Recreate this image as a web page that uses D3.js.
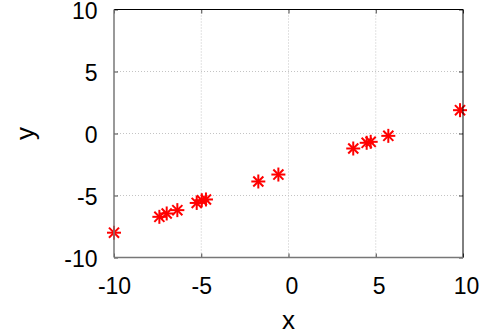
<!DOCTYPE html>
<html>
<head>
<meta charset="utf-8">
<script src="https://cdn.jsdelivr.net/npm/d3@7"></script>
<style>
  html, body { margin: 0; padding: 0; background: #fff; }
  svg { display: block; }
  text { font-family: "Liberation Sans", Arial, Helvetica, sans-serif; fill: #000; }
</style>
</head>
<body>
<svg id="chart" width="480" height="334"></svg>
<script>
const xValues = [-10.0, -7.40, -6.98, -6.37, -5.26, -4.97, -4.73, -1.73, -0.58, 3.71, 4.48, 4.71, 5.72, 9.83];
const yValues = [-8.00, -6.72, -6.45, -6.18, -5.60, -5.38, -5.32, -3.87, -3.31, -1.21, -0.75, -0.67, -0.19, 1.88];
const xTicks = [-10, -5, 0, 5, 10];
const yTicks = [-10, -5, 0, 5, 10];
const xLabel = "x";
const yLabel = "y";

(function () {
const svg = d3.select("#chart");
const pL = 114, pR = 463, pT = 9.5, pB = 257.5;

const x = d3.scaleLinear().domain([-10, 10]).range([pL, pR]);
const y = d3.scaleLinear().domain([-10, 10]).range([pB, pT]);

// grid
const grid = svg.append("g");
grid.selectAll("line.gx").data(xTicks.slice(1, -1)).join("line")
  .attr("x1", d => x(d)).attr("x2", d => x(d))
  .attr("y1", pT).attr("y2", pB)
  .attr("stroke", "#c4c4c4").attr("stroke-width", 1).attr("stroke-dasharray", "1,2");
grid.selectAll("line.gy").data(yTicks.slice(1, -1)).join("line")
  .attr("y1", d => y(d)).attr("y2", d => y(d))
  .attr("x1", pL).attr("x2", pR)
  .attr("stroke", "#c4c4c4").attr("stroke-width", 1).attr("stroke-dasharray", "1,2");

// markers (asterisks)
const r = 7;
const pts = svg.append("g").selectAll("g").data(xValues.map((v, i) => [v, yValues[i]])).join("g")
  .attr("transform", d => `translate(${x(d[0])},${y(d[1])})`);
const arms = [[0, -r, 0, r], [-r, 0, r, 0], [-r * 0.72, -r * 0.72, r * 0.72, r * 0.72], [-r * 0.72, r * 0.72, r * 0.72, -r * 0.72]];
arms.forEach(a => {
  pts.append("line").attr("x1", a[0]).attr("y1", a[1]).attr("x2", a[2]).attr("y2", a[3])
    .attr("stroke", "#ff0000").attr("stroke-width", 2);
});

// axes via d3
const tickLen = 4;
const fmt = d => String(d);
const gx = svg.append("g").attr("transform", `translate(0,${pB})`)
  .call(d3.axisBottom(x).tickValues(xTicks).tickSize(-tickLen).tickPadding(20).tickFormat(fmt));
const gxTop = svg.append("g").attr("transform", `translate(0,${pT})`)
  .call(d3.axisTop(x).tickValues(xTicks).tickSize(-tickLen).tickFormat(""));
const gy = svg.append("g").attr("transform", `translate(${pL},0)`)
  .call(d3.axisLeft(y).tickValues(yTicks).tickSize(-tickLen).tickPadding(16.5).tickFormat(fmt));
const gyR = svg.append("g").attr("transform", `translate(${pR},0)`)
  .call(d3.axisRight(y).tickValues(yTicks).tickSize(-tickLen).tickFormat(""));

[gx, gxTop, gy, gyR].forEach(g => {
  g.select(".domain").remove();
  g.selectAll(".tick line").attr("stroke", "#444").attr("stroke-width", 1);
});
gx.selectAll(".tick text").attr("font-size", 23).attr("fill", "#000")
  .attr("dx", d => d < 0 ? 0 : 3);
gy.selectAll(".tick text").attr("font-size", 23).attr("fill", "#000").attr("dy", "0.38em");
svg.selectAll(".tick text").style("font-family", '"Liberation Sans", Arial, sans-serif');

// frame
svg.append("line").attr("x1", pL).attr("x2", pR).attr("y1", pT).attr("y2", pT).attr("stroke", "#000");
svg.append("line").attr("x1", pR).attr("x2", pR).attr("y1", pT).attr("y2", pB).attr("stroke", "#000");
svg.append("line").attr("x1", pL).attr("x2", pL).attr("y1", pT).attr("y2", pB).attr("stroke", "#777").attr("stroke-width", 1.5);
svg.append("line").attr("x1", pL).attr("x2", pR).attr("y1", pB).attr("y2", pB).attr("stroke", "#777").attr("stroke-width", 1.5);

// axis labels
svg.append("text").attr("x", (pL + pR) / 2).attr("y", 329)
  .attr("text-anchor", "middle").attr("font-size", 26).text(xLabel);
svg.append("text").attr("transform", `translate(34,${(pT + pB) / 2}) rotate(-90)`)
  .attr("text-anchor", "middle").attr("font-size", 26).text(yLabel);
})();
</script>
</body>
</html>
